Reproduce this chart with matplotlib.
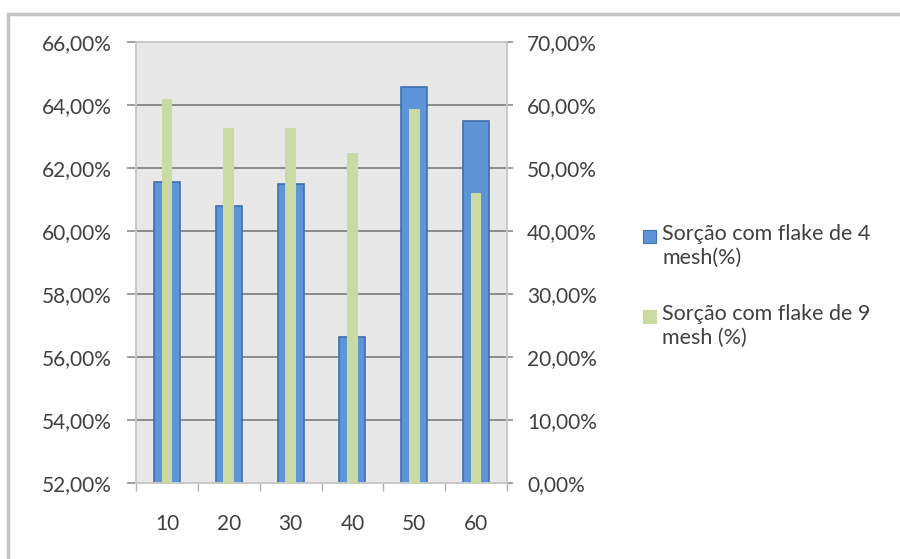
import matplotlib
matplotlib.use("Agg")
import matplotlib.pyplot as plt
from matplotlib.patches import Rectangle
from matplotlib.ticker import FuncFormatter, FixedLocator

# dados
categorias = ["10", "20", "30", "40", "50", "60"]
sorcao_4mesh = [61.55, 60.78, 61.50, 56.62, 64.56, 63.50]   # eixo esquerdo (%)
sorcao_9mesh = [60.9, 56.3, 56.3, 52.4, 59.4, 46.1]         # eixo direito (%)
nomes = ["Sorção com flake de 4\nmesh(%)", "Sorção com flake de 9\nmesh (%)"]

plt.rcParams['font.family'] = ['Lato', 'DejaVu Sans']

cor_azul = "#5E95D9"
cor_azul_borda = "#3F6FAE"
cor_verde = "#C9DAA2"
cor_texto = "#404040"
fs = 15

fig = plt.figure(figsize=(9, 5.59), dpi=100)
W, H = 900, 559

# moldura do gráfico
fig.patches.append(Rectangle((8 / W, -0.1), 1.2, 1 - 14 / H + 0.1,
                             transform=fig.transFigure, fill=False,
                             edgecolor="#C4C4C4", linewidth=2.5))

ax = fig.add_axes([136 / W, (H - 483) / H, (507 - 136) / W, (483 - 42) / H])
ax.set_facecolor("#E8E8E8")
x = list(range(len(categorias)))

ax.bar(x, [v - 52 for v in sorcao_4mesh], bottom=52, width=0.42,
       color=cor_azul, edgecolor=cor_azul_borda, linewidth=1.2, zorder=2)
ax.set_ylim(52, 66)
ax.set_xlim(-0.5, len(categorias) - 0.5)
ax.yaxis.set_major_locator(FixedLocator([52, 54, 56, 58, 60, 62, 64, 66]))
ax.yaxis.set_major_formatter(FuncFormatter(lambda v, p: f"{v:.2f}%".replace(".", ",")))
ax.grid(axis="y", color="#8C8C8C", linewidth=1.4, zorder=0)
ax.set_axisbelow(True)

ax.set_xticks(x)
ax.set_xticklabels(categorias)
ax.set_xticks([i - 0.5 for i in range(len(categorias) + 1)], minor=True)
ax.tick_params(axis="x", which="major", length=0, pad=22, labelsize=fs, labelcolor=cor_texto)
ax.tick_params(axis="x", which="minor", length=6, color="#B0B0B0", width=1)
ax.tick_params(axis="y", length=6.5, color="#8C8C8C", width=1.2, pad=11,
               labelsize=fs, labelcolor=cor_texto)

ax2 = ax.twinx()
ax2.bar(x, sorcao_9mesh, width=0.17, color=cor_verde, zorder=3)
ax2.set_ylim(0, 70)
ax2.yaxis.set_major_locator(FixedLocator(list(range(0, 71, 10))))
ax2.yaxis.set_major_formatter(FuncFormatter(lambda v, p: f"{v:.2f}%".replace(".", ",")))
ax2.tick_params(axis="y", length=4.5, color="#8C8C8C", width=1.2, pad=10,
                labelsize=fs, labelcolor=cor_texto)

for a in (ax, ax2):
    for s in a.spines.values():
        s.set_color("#C8C8C8")
        s.set_linewidth(1.2)

# legenda no estilo do Excel: marcador alinhado com a primeira linha
for nome, cor, borda, y_px in [(nomes[0], cor_azul, cor_azul_borda, 236),
                               (nomes[1], cor_verde, cor_verde, 316)]:
    fig.patches.append(Rectangle((643 / W, 1 - (y_px + 7) / H), 13 / W, 13 / H,
                                 transform=fig.transFigure, facecolor=cor, edgecolor=borda,
                                 linewidth=0.8))
    fig.text(662 / W, 1 - (y_px - 12) / H, nome, ha="left", va="top", fontsize=15.5,
             color=cor_texto, linespacing=1.25)

plt.savefig("out.png", dpi=100)
